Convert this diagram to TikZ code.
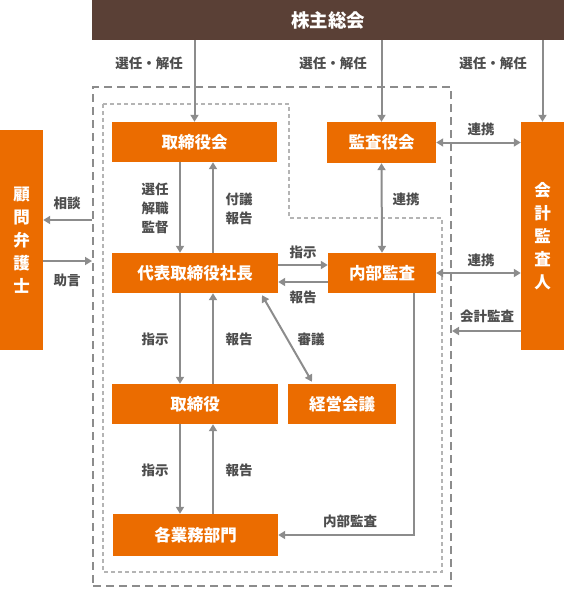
\documentclass[tikz,border=0pt]{standalone}
\usepackage{fontspec}
\setmainfont{Noto Sans CJK JP}
\usetikzlibrary{arrows.meta}
\definecolor{org}{HTML}{EB6C00}
\definecolor{brn}{HTML}{5A4036}
\definecolor{arrg}{HTML}{8C8C8C}
\definecolor{txtg}{HTML}{4D4D4D}
\definecolor{dotg}{HTML}{B4B4B4}
\tikzset{
  box/.style={fill=org, text=white, inner sep=0pt, font=\bfseries\fontsize{16.5}{23}\selectfont, align=center},
  lbl/.style={text=txtg, inner sep=0pt, font=\bfseries\fontsize{13.5}{19}\selectfont, align=center},
  arr/.style={draw=arrg, line width=2pt, -{Triangle[width=8pt,length=7pt]}},
  darr/.style={draw=arrg, line width=2pt, {Triangle[width=8pt,length=7pt]}-{Triangle[width=8pt,length=7pt]}},
}
\begin{document}
\begin{tikzpicture}[x=1pt,y=-1pt]
\useasboundingbox (0,0) rectangle (564,589);
% frames
\node (outer) [draw=arrg, line width=2pt, dash pattern=on 8pt off 5pt, minimum width=358pt, minimum height=499pt, inner sep=0pt] at (272,336.5) {};
\draw[dotg, line width=1.6pt, dash pattern=on 4pt off 3pt] (103,104) -- (289,104) -- (289,218) -- (442,218) -- (442,572) -- (103,572) -- cycle;
% boxes
\node (kabu) [box, fill=brn, minimum width=472pt, minimum height=40pt, font=\bfseries\fontsize{18.5}{22}\selectfont] at (328,20) {株主総会};
\node (tk) [box, minimum width=165pt, minimum height=40pt] at (194.5,142) {取締役会};
\node (dh) [box, minimum width=166pt, minimum height=40pt] at (195,273) {代表取締役社長};
\node (ks) [box, minimum width=109pt, minimum height=41pt] at (381.5,142.5) {監査役会};
\node (nb) [box, minimum width=108pt, minimum height=40pt] at (382,273) {内部監査};
\node (ka) [box, minimum width=43pt, minimum height=228pt] at (542.5,236) {会\\計\\監\\査\\人};
\node (ko) [box, minimum width=43pt, minimum height=220pt] at (21.5,240) {顧\\問\\弁\\護\\士};
\node (tr) [box, minimum width=166pt, minimum height=40pt] at (195,404) {取締役};
\node (kk) [box, minimum width=108pt, minimum height=40pt] at (342,404) {経営会議};
\node (gb) [box, minimum width=165pt, minimum height=42pt] at (195.5,535) {各業務部門};
% helper coordinates
\coordinate (xL) at (180,0);
\coordinate (xR) at (213,0);
\coordinate (xN) at (414,0);
\coordinate (yA) at (0,265);
\coordinate (yB) at (0,282);
\coordinate (yC) at (0,331);
\coordinate (yD) at (0,220);
\coordinate (yE) at (0,261);
% arrows from 株主総会
\draw[arr] (kabu.south -| tk.north) -- (tk.north);
\draw[arr] (kabu.south -| ks.north) -- (ks.north);
\draw[arr] (kabu.south -| ka.north) -- (ka.north);
% vertical pairs
\draw[arr] (tk.south -| xL) -- (dh.north -| xL);
\draw[arr] (dh.north -| xR) -- (tk.south -| xR);
\draw[arr] (dh.south -| xL) -- (tr.north -| xL);
\draw[arr] (tr.north -| xR) -- (dh.south -| xR);
\draw[arr] (tr.south -| xL) -- (gb.north -| xL);
\draw[arr] (gb.north -| xR) -- (tr.south -| xR);
% 代表 <-> 内部監査
\draw[arr] (dh.east |- yA) -- (nb.west |- yA);
\draw[arr] (nb.west |- yB) -- (dh.east |- yB);
% 連携
\draw[darr] (ks.south) -- (nb.north);
\draw[darr] (ks.east) -- (ka.west |- ks.east);
\draw[darr] (nb.east) -- (ka.west |- nb.east);
% 会計監査
\draw[arr] (ka.west |- yC) -- (outer.east |- yC);
% 顧問
\draw[arr] (outer.west |- yD) -- (ko.east |- yD);
\draw[arr] (ko.east |- yE) -- (outer.west |- yE);
% 審議
\draw[darr] ([xshift=67pt,yshift=-2pt]dh.south) -- ([xshift=-30pt,yshift=2pt]kk.north);
% 内部監査 -> 各業務部門
\draw[arr] (nb.south -| xN) |- (gb.east);
% labels
\node (l1) [lbl] at (149,63) {選任・解任};
\node (l2) [lbl] at (333,63) {選任・解任};
\node (l3) [lbl] at (493,63) {選任・解任};
\node (l4) [lbl] at (155,208) {選任\\解職\\監督};
\node (l5) [lbl] at (239,208.5) {付議\\報告};
\node (l6) [lbl] at (67,203) {相談};
\node (l7) [lbl] at (67,280) {助言};
\node (l8) [lbl] at (303,252) {指示};
\node (l9) [lbl] at (303,297) {報告};
\node (l10) [lbl] at (406,199) {連携};
\node (l11) [lbl] at (481,129) {連携};
\node (l12) [lbl] at (481,260) {連携};
\node (l13) [lbl] at (487,316) {会計監査};
\node (l14) [lbl] at (155,339) {指示};
\node (l15) [lbl] at (239,339) {報告};
\node (l16) [lbl] at (311,339) {審議};
\node (l17) [lbl] at (155,470) {指示};
\node (l18) [lbl] at (239,470) {報告};
\node (l19) [lbl] at (350,521) {内部監査};
\end{tikzpicture}
\end{document}
